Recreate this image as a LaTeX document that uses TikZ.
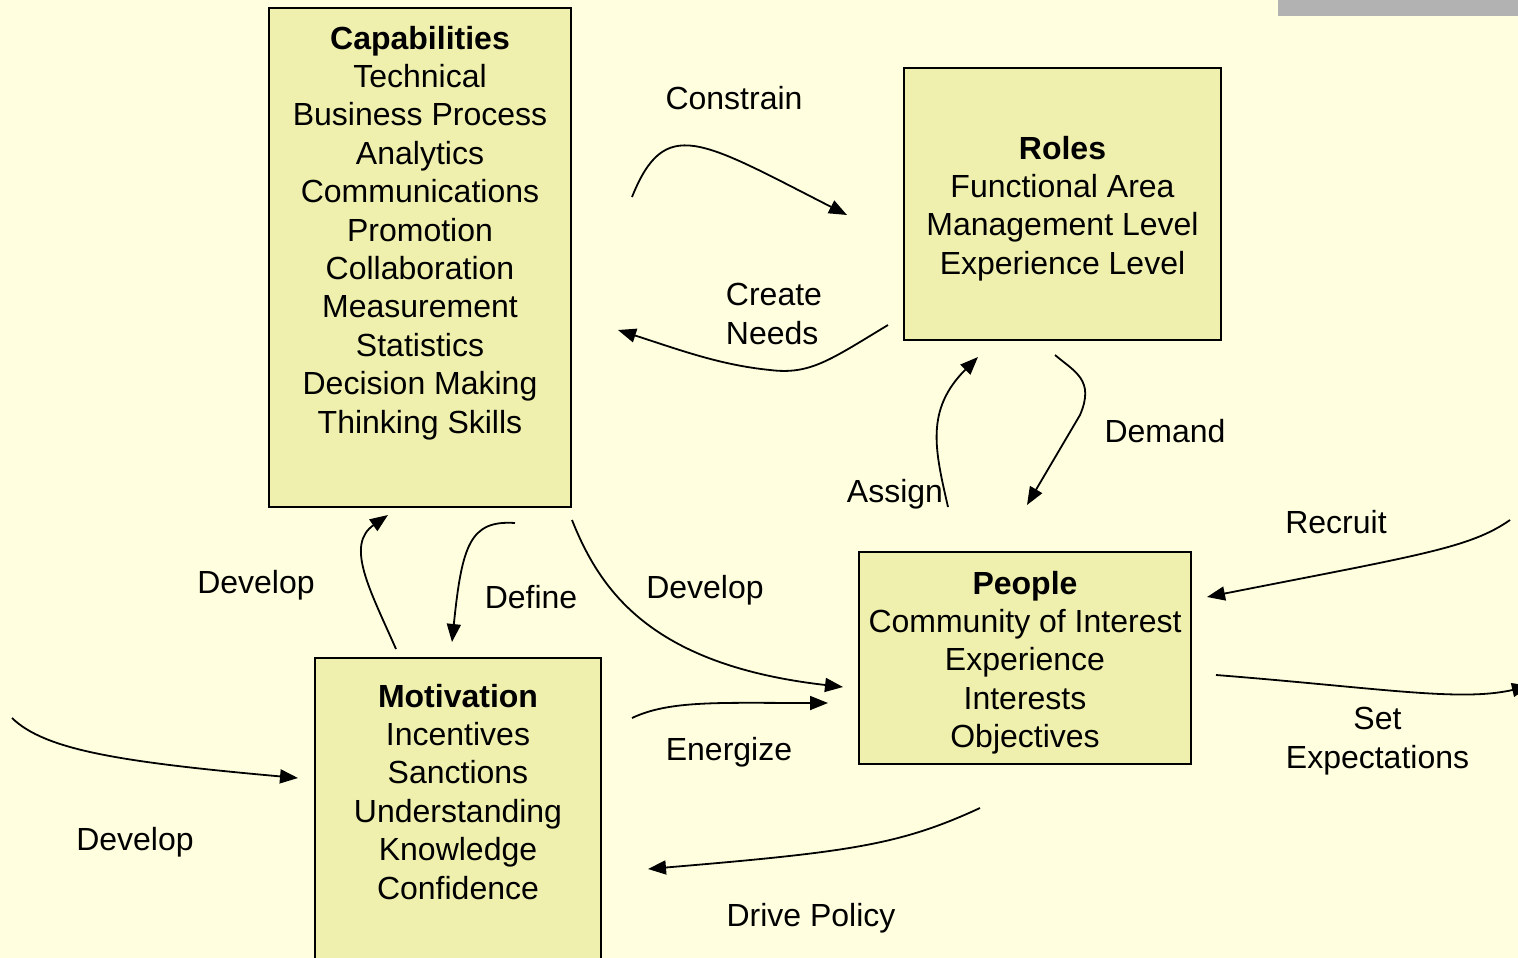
\documentclass[tikz,border=0pt]{standalone}
\usepackage{fontspec}
\setmainfont{Liberation Sans}
\usetikzlibrary{positioning,arrows.meta}

\definecolor{pageYellow}{HTML}{FFFFE0}
\definecolor{boxYellow}{HTML}{F0F0AE}
\definecolor{barGray}{HTML}{B2B2B2}

\tikzset{
  big/.style={font=\fontsize{32}{38.4}\selectfont},
  box/.style={draw=black,line width=1.5pt,fill=boxYellow,inner sep=0pt},
  txt/.style={big,align=center,inner sep=0pt},
  flow/.style={line width=1.8pt,-{Triangle[length=18pt,width=14pt]}}
}

\begin{document}
\begin{tikzpicture}[x=1pt,y=-1pt]
  \useasboundingbox (0,0) rectangle (1518,958);
  \clip (0,0) rectangle (1518,958);
  \fill[pageYellow] (0,0) rectangle (1518,958);
  \fill[barGray] (1278,0) rectangle (1518,16);

  % boxes
  \node[box,minimum width=302pt,minimum height=499pt] (caps) at (420,257.5) {};
  \node[txt,below=18.5pt of caps.north] (capsText)
    {\textbf{Capabilities}\\Technical\\Business Process\\Analytics\\Communications\\Promotion\\Collaboration\\Measurement\\Statistics\\Decision Making\\Thinking Skills};
  \node[box,minimum width=317pt,minimum height=272pt] (roles) at (1062.5,204) {};
  \node[txt,below=68.5pt of roles.north] (rolesText)
    {\textbf{Roles}\\Functional Area\\Management Level\\Experience Level};
  \node[box,minimum width=332pt,minimum height=212pt] (people) at (1025,658) {};
  \node[txt,below=19.5pt of people.north] (peopleText)
    {\textbf{People}\\Community of Interest\\Experience\\Interests\\Objectives};
  \node[box,minimum width=286pt,minimum height=360pt] (motiv) at (458,838) {};
  \node[txt,below=26.5pt of motiv.north] (motivText)
    {\textbf{Motivation}\\Incentives\\Sanctions\\Understanding\\Knowledge\\Confidence};

  % arrow ends
  \coordinate (conS) at (632,197);  \coordinate (conE) at (847,215);
  \coordinate (creS) at (888,325);  \coordinate (creE) at (618,330);
  \coordinate (asgS) at (948,507);  \coordinate (asgE) at (978,357);
  \coordinate (demS) at (1055,355); \coordinate (demE) at (1027,505);
  \coordinate (recS) at (1510,520); \coordinate (recE) at (1207,597);
  \coordinate (setS) at (1216,675); \coordinate (setE) at (1530,686);
  \coordinate (devS) at (572,520);  \coordinate (devE) at (843,687);
  \coordinate (eneS) at (632,718);  \coordinate (eneE) at (828,703);
  \coordinate (drvS) at (980,808);  \coordinate (drvE) at (648,869);
  \coordinate (upS) at (396,649);   \coordinate (upE) at (388,515);
  \coordinate (defS) at (515,523);  \coordinate (defE) at (452,642);
  \coordinate (inS) at (12,718);    \coordinate (inE) at (298,778);

  \draw[flow] (conS) .. controls (665,115) and (700,140) .. (conE);
  \draw[flow] (creS) .. controls (830,360) and (810,375) .. (770,370)
                     .. controls (720,365) and (680,350) .. (creE);
  \draw[flow] (asgS) .. controls (935,450) and (925,410) .. (asgE);
  \draw[flow] (demS) .. controls (1075,372) and (1095,380) .. (1080,415) -- (demE);
  \draw[flow] (recS) .. controls (1470,548) and (1420,555) .. (recE);
  \draw[flow] (setS) .. controls (1380,688) and (1460,702) .. (setE);
  \draw[flow] (devS) .. controls (600,590) and (650,665) .. (devE);
  \draw[flow] (eneS) .. controls (670,700) and (720,703) .. (eneE);
  \draw[flow] (drvS) .. controls (900,845) and (850,852) .. (drvE);
  \draw[flow] (upS) .. controls (370,590) and (345,545) .. (upE);
  \draw[flow] (defS) .. controls (470,520) and (462,545) .. (defE);
  \draw[flow] (inS) .. controls (45,750) and (120,762) .. (inE);

  % labels
  \node[big,anchor=base] (conLbl) at (734,109) {Constrain};
  \node[txt,align=left] (creLbl) at (774,314) {Create\\Needs};
  \node[big,anchor=base] (asgLbl) at (895,502) {Assign};
  \node[big,anchor=base] (demLbl) at (1165,442) {Demand};
  \node[big,anchor=base] (recLbl) at (1336,533) {Recruit};
  \node[txt] (setLbl) at (1377.5,741) {Set\\Expectations};
  \node[big,anchor=base] (devLbl) at (705,598) {Develop};
  \node[big,anchor=base] (eneLbl) at (729,760) {Energize};
  \node[big,anchor=base] (drvLbl) at (811,926) {Drive Policy};
  \node[big,anchor=base] (upLbl) at (256,593) {Develop};
  \node[big,anchor=base] (defLbl) at (531,608) {Define};
  \node[big,anchor=base] (inLbl) at (135,850) {Develop};
\end{tikzpicture}
\end{document}
